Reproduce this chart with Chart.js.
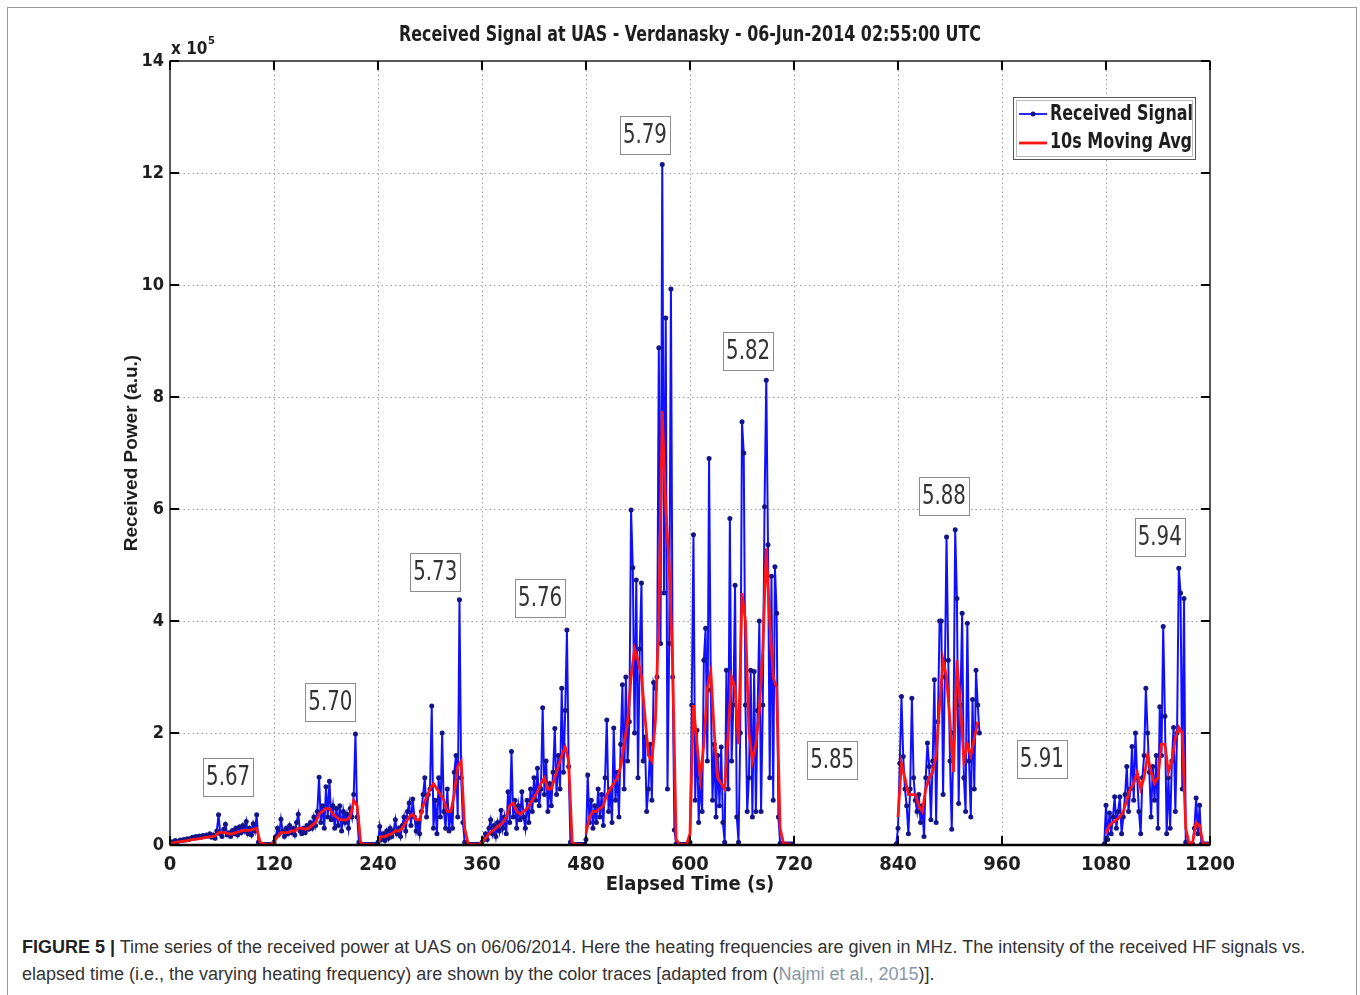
<!DOCTYPE html>
<html><head><meta charset="utf-8">
<script src="https://cdn.jsdelivr.net/npm/chart.js@4.4.1/dist/chart.umd.min.js"></script>
<style>
html,body{margin:0;padding:0;background:#fff;width:1360px;height:995px;overflow:hidden;}
#frame{position:absolute;left:7px;top:7px;width:1348px;height:1000px;border:1px solid #9a9a9a;}
#c{position:absolute;left:0;top:0;}
#caption{position:absolute;left:22px;top:934px;font-family:'Liberation Sans',Arial,sans-serif;font-size:18px;line-height:27px;color:#333;white-space:nowrap;}
#caption b{color:#222;}
#caption .ref{color:#8797a8;}
</style></head><body>
<div id="frame"></div>
<canvas id="c" width="1360" height="900"></canvas>
<div id="caption"><b>FIGURE 5 |</b> Time series of the received power at UAS on 06/06/2014. Here the heating frequencies are given in MHz. The intensity of the received HF signals vs.<br>elapsed time (i.e., the varying heating frequency) are shown by the color traces [adapted from (<span class="ref">Najmi et al., 2015</span>)].</div>
<script>
// ---------------- DATA (power in units of 1e5 a.u.) ----------------
const signalStep = 2;   // s between received-signal samples
const avgStep = 4;      // s between moving-average samples

const sig567 = [0.05,0.06,0.05,0.08,0.06,0.07,0.09,0.08,0.10,0.09,
  0.11,0.10,0.12,0.14,0.12,0.15,0.13,0.16,0.14,0.17,
  0.15,0.18,0.16,0.20,0.14,0.18,0.12,0.25,0.54,0.20,
  0.15,0.28,0.37,0.18,0.22,0.15,0.26,0.20,0.30,0.18,
  0.32,0.22,0.35,0.25,0.42,0.20,0.30,0.18,0.38,0.25,
  0.54,0.05,0.02,0.01,0.01,0.01,0.01,0.01,0.01,0.01];
const sig570 = [0.05,0.15,0.30,0.20,0.46,0.25,0.15,0.30,0.20,0.35,
  0.22,0.30,0.18,0.40,0.55,0.25,0.20,0.30,0.22,0.35,
  0.28,0.40,0.30,0.50,0.35,0.60,1.21,0.40,0.70,0.30,
  1.04,0.50,1.14,0.45,0.70,0.30,0.65,0.35,0.70,0.25,
  0.60,0.40,0.55,0.30,0.65,0.50,0.90,1.98,0.50,0.05,
  0.02,0.01,0.01,0.01,0.01,0.01,0.01,0.01,0.01,0.01];
const sig573 = [0.05,0.33,0.10,0.20,0.08,0.25,0.12,0.30,0.15,0.25,
  0.45,0.20,0.30,0.15,0.35,0.50,0.25,0.60,0.75,0.35,
  0.82,0.50,0.25,0.40,0.20,0.60,0.90,1.20,0.50,0.90,
  1.00,2.48,0.30,0.80,0.20,1.20,0.50,2.00,0.60,0.30,
  1.00,0.25,0.60,0.30,1.30,1.60,0.50,4.38,1.20,0.40,
  0.05,0.02,0.01,0.01,0.01,0.01,0.01,0.01,0.01,0.01];
const sig576 = [0.05,0.10,0.20,0.10,0.30,0.45,0.20,0.35,0.15,0.40,
  0.25,0.62,0.30,0.50,0.20,0.95,0.40,1.67,0.50,0.80,
  0.30,0.70,0.45,0.95,0.50,0.30,0.80,0.40,1.00,0.60,
  1.20,0.80,1.37,0.70,1.00,2.45,0.90,1.50,0.60,1.10,
  0.70,1.30,2.08,0.90,1.60,1.00,2.80,1.30,2.40,3.84,
  1.40,0.05,0.02,0.01,0.01,0.01,0.01,0.01,0.01,0.01];
const sig579 = [0.10,1.25,0.40,0.80,0.30,0.70,0.40,1.00,0.50,0.90,
  0.35,1.20,2.23,0.60,1.00,0.40,2.09,0.80,1.30,0.50,
  1.80,2.86,1.00,3.00,1.50,2.20,5.98,4.95,2.00,4.73,
  1.20,3.50,4.68,1.50,1.93,0.60,1.00,1.80,0.80,2.90,
  2.80,3.00,8.88,3.60,12.15,4.50,9.41,1.00,3.60,9.93,
  3.00,0.27,0.02,0.01,0.01,0.01,0.01,0.01,0.01,0.01];
const sig582 = [0.05,2.50,5.54,0.80,2.05,0.40,1.20,0.60,3.30,3.87,
  1.50,6.90,2.77,0.80,1.80,0.50,1.60,0.70,1.75,0.40,
  0.05,3.12,1.00,5.83,1.50,2.50,4.64,0.50,0.05,2.00,
  7.56,7.00,2.50,0.60,1.20,3.12,0.50,3.10,0.60,2.40,
  4.00,0.60,2.50,6.04,8.30,5.36,1.20,4.80,0.80,4.97,
  4.14,0.50,0.03,0.02,0.02,0.02,0.02,0.02,0.02,0.02];
const sig588 = [0.02,0.30,1.46,2.65,1.58,1.00,0.70,0.20,1.00,2.62,
  1.20,0.80,0.60,0.90,0.40,0.70,0.15,1.20,1.82,1.40,
  0.45,1.50,2.95,0.40,2.20,4.00,4.00,0.90,3.00,5.50,
  3.30,1.50,0.28,2.00,5.63,4.40,0.74,2.50,4.14,1.20,
  0.60,3.96,1.50,0.50,2.60,1.00,3.12,2.50,2.00];
const sig594 = [0.02,0.71,0.10,0.57,0.20,0.50,0.86,0.30,0.60,0.86,
  0.20,0.50,0.90,1.40,0.60,1.00,1.76,0.80,2.00,1.20,
  0.60,0.20,1.20,1.60,2.80,2.00,1.30,0.50,1.40,0.80,
  1.60,0.30,2.47,1.60,3.90,2.30,0.20,1.20,0.30,1.50,
  2.10,0.60,2.00,4.94,4.50,1.00,4.40,0.05,0.02,0.02,
  0.02,0.02,0.30,0.84,0.20,0.71,0.02,0.02,0.02,0.02,
  0.02,0.02];
const signalSegStarts = [0, 838, 1078];
const signalSegData = [sig567.concat(sig570, sig573, sig576, sig579, sig582), sig588, sig594];

const avgSegStarts = [0, 240, 480, 840, 1080];
const avg1 = [0.03,0.04,0.05,0.06,0.07,0.08,0.09,0.10,0.11,0.12,
  0.13,0.14,0.15,0.16,0.22,0.22,0.22,0.20,0.20,0.22,
  0.24,0.26,0.26,0.26,0.28,0.30,0.05,0.02,0.01,0.01,
  0.05,0.15,0.22,0.22,0.22,0.25,0.25,0.30,0.30,0.28,
  0.30,0.35,0.40,0.55,0.60,0.65,0.65,0.55,0.50,0.45,
  0.45,0.45,0.50,0.80,0.70,0.05,0.01,0.01,0.01,0.01];
const avg2 = [0.05,0.15,0.15,0.18,0.20,0.25,0.25,0.30,0.40,0.50,
  0.55,0.45,0.45,0.70,0.85,1.00,1.10,1.00,0.90,0.80,
  0.60,0.60,0.90,1.40,1.50,0.30,0.02,0.01,0.01,0.01,
  0.05,0.12,0.20,0.25,0.30,0.35,0.40,0.50,0.70,0.75,
  0.60,0.55,0.60,0.65,0.75,0.85,0.95,1.10,1.20,1.00,
  1.00,1.20,1.40,1.60,1.75,1.50,0.05,0.01,0.01,0.01];
const avg3 = [0.20,0.50,0.60,0.60,0.65,0.70,0.90,1.00,1.10,1.20,
  1.40,1.80,2.20,3.00,3.50,3.30,3.00,2.30,1.60,1.50,
  2.20,4.00,7.75,6.00,5.00,3.20,0.10,0.01,0.01,0.01,
  0.20,2.50,1.80,1.20,1.80,2.80,3.10,2.00,1.20,1.10,
  1.00,2.00,3.00,2.80,1.80,4.50,4.00,2.00,1.50,1.80,
  2.40,3.50,5.30,4.00,3.00,2.80,0.30,0.02,0.02,0.02];
const avg4 = [0.50,1.45,1.20,0.90,0.90,0.90,0.70,0.60,1.00,1.20,1.30,1.60,
  2.50,3.30,3.00,2.20,1.30,3.30,2.50,1.50,1.80,1.60,1.90,2.20];
const avg5 = [0.20,0.35,0.40,0.45,0.50,0.60,0.80,1.00,1.10,1.30,
  1.00,1.20,1.60,1.30,1.10,1.20,1.80,1.80,1.30,1.50,
  1.90,2.10,2.00,0.30,0.02,0.05,0.40,0.35,0.02,0.02,0.02];
const avgSegData = [avg1, avg2, avg3, avg4, avg5];

const xTickValues = [0,120,240,360,480,600,720,840,960,1080,1200];
const yTickValues = [0,2,4,6,8,10,12,14];

const freqLabels = ['5.67','5.70','5.73','5.76','5.79','5.82','5.85','5.88','5.91','5.94'];
const freqLabelT = [67, 185, 306, 427, 548, 667, 764, 893, 1006, 1142];
const freqLabelV = [1.21, 2.55, 4.88, 4.41, 12.68, 8.82, 1.52, 6.23, 1.54, 5.5];

const titleText = 'Received Signal at UAS - Verdanasky - 06-Jun-2014 02:55:00 UTC';
const seriesNames = ['Received Signal', '10s Moving Avg'];

// ---------------- BUILD POINTS ----------------
function buildPoints(starts, segs, step){
  const pts = [];
  segs.forEach((arr, k) => {
    if (k > 0) pts.push({x: starts[k] - step/2, y: null});
    arr.forEach((v, i) => pts.push({x: starts[k] + i*step, y: v}));
  });
  return pts;
}
const signalPoints = buildPoints(signalSegStarts, signalSegData, signalStep);
const avgPoints = buildPoints(avgSegStarts, avgSegData, avgStep);

const NARROW = "'Liberation Sans Narrow','Arial Narrow','DejaVu Sans Condensed',sans-serif";
const BLUE = '#1010ff', NAVY = '#14148a', RED = '#ff1414', INK = '#1e1e1e';

const matlabFrame = {
  id: 'matlabFrame',
  beforeDatasetsDraw(chart){
    const {ctx, chartArea: a, scales: {x, y}} = chart;
    ctx.save();
    ctx.strokeStyle = '#a0a0a0'; ctx.lineWidth = 1; ctx.setLineDash([1.5, 3]);
    xTickValues.slice(1, -1).forEach(t => {
      const px = Math.round(x.getPixelForValue(t)) + 0.5;
      ctx.beginPath(); ctx.moveTo(px, a.top); ctx.lineTo(px, a.bottom); ctx.stroke();
    });
    yTickValues.slice(1, -1).forEach(v => {
      const py = Math.round(y.getPixelForValue(v)) + 0.5;
      ctx.beginPath(); ctx.moveTo(a.left, py); ctx.lineTo(a.right, py); ctx.stroke();
    });
    ctx.restore();
  },
  afterDatasetsDraw(chart){
    const {ctx, chartArea: a, scales: {x, y}} = chart;
    ctx.save();
    ctx.setLineDash([]);
    ctx.strokeStyle = '#000'; ctx.lineWidth = 1.3;
    ctx.strokeRect(a.left, a.top, a.right - a.left, a.bottom - a.top);
    ctx.lineWidth = 2.4;
    ctx.beginPath(); ctx.moveTo(a.left, a.bottom); ctx.lineTo(a.right, a.bottom); ctx.stroke();
    ctx.lineWidth = 2; const tl = 9;
    xTickValues.forEach(t => {
      const px = x.getPixelForValue(t);
      ctx.beginPath(); ctx.moveTo(px, a.bottom); ctx.lineTo(px, a.bottom - tl);
      ctx.moveTo(px, a.top); ctx.lineTo(px, a.top + tl); ctx.stroke();
    });
    yTickValues.forEach(v => {
      const py = y.getPixelForValue(v);
      ctx.beginPath(); ctx.moveTo(a.left, py); ctx.lineTo(a.left + tl, py);
      ctx.moveTo(a.right, py); ctx.lineTo(a.right - tl, py); ctx.stroke();
    });
    // frequency annotations
    ctx.font = '27px ' + NARROW; ctx.textAlign = 'center'; ctx.textBaseline = 'middle';
    freqLabels.forEach((s, i) => {
      const cx = x.getPixelForValue(freqLabelT[i]), cy = y.getPixelForValue(freqLabelV[i]);
      const w = 50, h = 38;
      ctx.fillStyle = '#fff'; ctx.fillRect(cx - w/2, cy - h/2, w, h);
      ctx.strokeStyle = '#8c8c8c'; ctx.lineWidth = 1;
      ctx.strokeRect(Math.round(cx - w/2) + 0.5, Math.round(cy - h/2) + 0.5, w, h);
      ctx.fillStyle = '#333'; ctx.fillText(s, cx, cy + 1, 44);
    });
    // legend
    const lx = 1013, ly = 97, lw = 182, lh = 62;
    ctx.fillStyle = '#fff'; ctx.fillRect(lx, ly, lw, lh);
    ctx.strokeStyle = '#555'; ctx.lineWidth = 1;
    ctx.strokeRect(lx + 0.5, ly + 0.5, lw, lh);
    ctx.strokeStyle = '#bbb'; ctx.strokeRect(lx + 3.5, ly + 3.5, lw - 6, lh - 6);
    ctx.lineWidth = 1.8; ctx.strokeStyle = BLUE;
    ctx.beginPath(); ctx.moveTo(lx + 6, ly + 17); ctx.lineTo(lx + 34, ly + 17); ctx.stroke();
    ctx.fillStyle = NAVY; ctx.beginPath(); ctx.arc(lx + 20, ly + 17, 2.5, 0, Math.PI*2); ctx.fill();
    ctx.lineWidth = 2.8; ctx.strokeStyle = RED;
    ctx.beginPath(); ctx.moveTo(lx + 6, ly + 46); ctx.lineTo(lx + 34, ly + 46); ctx.stroke();
    ctx.fillStyle = INK; ctx.font = 'bold 21px ' + NARROW; ctx.textAlign = 'left';
    ctx.fillText(seriesNames[0], lx + 37, ly + 18, 143);
    ctx.fillText(seriesNames[1], lx + 37, ly + 46, 142);
    // title
    ctx.textAlign = 'center'; ctx.font = 'bold 22px ' + NARROW;
    ctx.fillText(titleText, 690, 35, 582);
    // exponent
    ctx.textAlign = 'left'; ctx.textBaseline = 'alphabetic';
    ctx.font = 'bold 17px ' + NARROW; ctx.fillText('x 10', a.left + 1, 54);
    ctx.font = 'bold 11px ' + NARROW; ctx.fillText('5', a.left + 38, 44);
    ctx.restore();
  }
};

new Chart(document.getElementById('c'), {
  type: 'line',
  data: {
    datasets: [
      {label: seriesNames[0], data: signalPoints, borderColor: BLUE, borderWidth: 2,
       pointRadius: 2.5, pointBackgroundColor: NAVY, pointBorderColor: NAVY, pointBorderWidth: 0,
       tension: 0, spanGaps: false, order: 1},
      {label: seriesNames[1], data: avgPoints, borderColor: RED, borderWidth: 2.8,
       pointRadius: 0, tension: 0, spanGaps: false, order: 0}
    ]
  },
  options: {
    responsive: false, animation: false, devicePixelRatio: 1, events: [],
    layout: {padding: {left: 118, right: 150, top: 61, bottom: 0}},
    plugins: {legend: {display: false}, tooltip: {enabled: false}, title: {display: false}},
    scales: {
      x: {type: 'linear', min: 0, max: 1200,
          afterBuildTicks: s => { s.ticks = xTickValues.map(v => ({value: v})); },
          afterFit: s => { s.height = 55; },
          grid: {display: false, drawTicks: false}, border: {display: false},
          ticks: {autoSkip: false, maxRotation: 0, padding: 8, color: INK,
                  callback: v => String(v),
                  font: {family: NARROW, size: 20, weight: 'bold'}},
          title: {display: true, text: 'Elapsed Time (s)', color: INK, padding: {top: 0, bottom: 3},
                  font: {family: NARROW, size: 20, weight: 'bold'}}},
      y: {type: 'linear', min: 0, max: 14,
          afterBuildTicks: s => { s.ticks = yTickValues.map(v => ({value: v})); },
          afterFit: s => { s.width = 52; },
          grid: {display: false, drawTicks: false}, border: {display: false},
          ticks: {padding: 6, color: INK, callback: v => String(v),
                  font: {family: NARROW, size: 18, weight: 'bold'}},
          title: {display: true, text: 'Received Power (a.u.)', color: INK, padding: {top: 2, bottom: 2},
                  font: {family: "'Liberation Sans',Arial,sans-serif", size: 19, weight: 'bold'}}}
    }
  },
  plugins: [matlabFrame]
});
</script>
</body></html>
